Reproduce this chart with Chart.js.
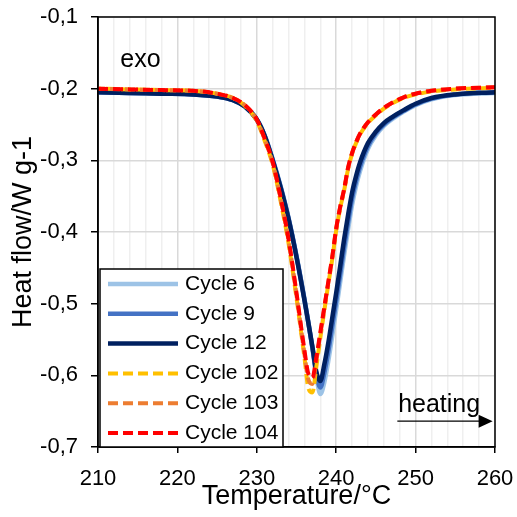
<!DOCTYPE html>
<html>
<head>
<meta charset="utf-8">
<script src="https://cdn.jsdelivr.net/npm/chart.js@4.4.1/dist/chart.umd.min.js"></script>
<style>
  html, body { margin: 0; padding: 0; background: #fff; }
  #wrap { width: 517px; height: 517px; }
</style>
</head>
<body>
<div id="wrap"><canvas id="dsc" width="517" height="517"></canvas></div>
<script>
// Temperature points (°C) shared by all curves
const temps = [210, 214, 218, 222, 225, 227, 228.5, 230, 231, 232, 233, 234, 235, 236, 236.5, 237, 237.5, 238, 238.5, 239, 239.5, 240, 240.5, 241, 241.5, 242, 242.5, 243, 244, 245, 246, 247, 248.5, 250, 252, 255, 260];

// Heat flow (W/g)
const cycle6 = [-0.205, -0.206, -0.207, -0.208, -0.211, -0.216, -0.225, -0.243, -0.265, -0.298, -0.336, -0.380, -0.433, -0.493, -0.526, -0.562, -0.600, -0.626, -0.610, -0.580, -0.545, -0.508, -0.470, -0.432, -0.396, -0.362, -0.336, -0.315, -0.284, -0.265, -0.252, -0.243, -0.232, -0.223, -0.215, -0.209, -0.206];
const cycle9 = [-0.205, -0.206, -0.207, -0.208, -0.211, -0.216, -0.225, -0.243, -0.266, -0.299, -0.337, -0.381, -0.434, -0.494, -0.527, -0.561, -0.598, -0.617, -0.597, -0.567, -0.532, -0.496, -0.459, -0.421, -0.386, -0.353, -0.329, -0.309, -0.280, -0.262, -0.250, -0.241, -0.231, -0.222, -0.214, -0.208, -0.205];
const cycle12 = [-0.205, -0.206, -0.207, -0.208, -0.211, -0.216, -0.225, -0.243, -0.266, -0.300, -0.338, -0.382, -0.435, -0.495, -0.527, -0.560, -0.595, -0.608, -0.585, -0.555, -0.520, -0.485, -0.448, -0.410, -0.376, -0.345, -0.322, -0.303, -0.276, -0.260, -0.248, -0.240, -0.230, -0.221, -0.213, -0.208, -0.205];
const cycle102 = [-0.200, -0.201, -0.202, -0.203, -0.207, -0.213, -0.224, -0.245, -0.273, -0.306, -0.357, -0.416, -0.492, -0.575, -0.618, -0.624, -0.588, -0.548, -0.510, -0.473, -0.438, -0.398, -0.367, -0.342, -0.312, -0.291, -0.276, -0.264, -0.248, -0.237, -0.228, -0.221, -0.213, -0.208, -0.204, -0.201, -0.199];
const cycle103 = [-0.200, -0.201, -0.202, -0.203, -0.207, -0.213, -0.223, -0.244, -0.271, -0.304, -0.354, -0.412, -0.488, -0.570, -0.606, -0.612, -0.580, -0.543, -0.507, -0.471, -0.436, -0.396, -0.366, -0.341, -0.311, -0.290, -0.275, -0.263, -0.247, -0.236, -0.227, -0.220, -0.212, -0.207, -0.203, -0.200, -0.198];
const cycle104 = [-0.200, -0.201, -0.202, -0.203, -0.207, -0.213, -0.223, -0.243, -0.270, -0.302, -0.352, -0.410, -0.485, -0.565, -0.598, -0.603, -0.575, -0.540, -0.505, -0.470, -0.435, -0.395, -0.365, -0.340, -0.310, -0.290, -0.275, -0.263, -0.247, -0.236, -0.227, -0.220, -0.212, -0.207, -0.203, -0.200, -0.198];

const seriesLabels = ["Cycle 6", "Cycle 9", "Cycle 12", "Cycle 102", "Cycle 103", "Cycle 104"];
const seriesValues = [cycle6, cycle9, cycle12, cycle102, cycle103, cycle104];
const seriesColors = ["#9DC3E6", "#4472C4", "#002060", "#FFC000", "#ED7D31", "#FF0000"];
const dashed = [false, false, false, true, true, true];

// Axis ranges
const xMin = 210, xMax = 260;
const yMin = -0.7, yMax = -0.1;

const FONT = "'Liberation Sans', Arial, sans-serif";

const datasets = seriesLabels.map((label, i) => ({
    label: label,
    data: temps.map((t, j) => ({ x: t, y: seriesValues[i][j] })),
    borderColor: seriesColors[i],
    borderWidth: dashed[i] ? 4 : 4.5,
    borderDash: dashed[i] ? [10, 5] : [],
    borderDashOffset: i === 3 ? 7 : (i === 4 ? 3 : 0),
    pointRadius: 0,
    fill: false,
    cubicInterpolationMode: "monotone",
    order: 5 - i   // later cycles on top
}));

// black frame round the plot area
const framePlugin = {
    id: "frame",
    afterDatasetsDraw(chart) {
        const { ctx, chartArea: a } = chart;
        ctx.save();
        ctx.strokeStyle = "#000";
        ctx.lineWidth = 1.5;
        ctx.strokeRect(a.left, a.top, a.right - a.left, a.bottom - a.top);
        ctx.restore();
    }
};

// legend box in the lower left corner + "exo" and "heating" notes
const notesPlugin = {
    id: "notes",
    afterDraw(chart) {
        const { ctx, chartArea: a, scales } = chart;
        const x = scales.x, y = scales.y;
        ctx.save();

        // legend
        const bx = a.left + 2, by = a.bottom - 178, bw = 183, bh = 178;
        ctx.fillStyle = "#fff";
        ctx.fillRect(bx, by, bw, bh);
        ctx.strokeStyle = "#000";
        ctx.lineWidth = 1.5;
        ctx.strokeRect(bx, by, bw, bh);
        ctx.font = "21px " + FONT;
        ctx.textBaseline = "middle";
        ctx.textAlign = "left";
        chart.data.datasets.forEach((ds, i) => {
            const ry = by + 15 + i * 29.8;
            ctx.beginPath();
            ctx.strokeStyle = ds.borderColor;
            ctx.lineWidth = ds.borderWidth;
            ctx.setLineDash(ds.borderDash);
            ctx.lineDashOffset = 0;
            ctx.moveTo(bx + 8, ry);
            ctx.lineTo(bx + 78, ry);
            ctx.stroke();
            ctx.setLineDash([]);
            ctx.fillStyle = "#000";
            ctx.fillText(ds.label, bx + 85, ry);
        });

        // exo
        ctx.fillStyle = "#000";
        ctx.font = "25px " + FONT;
        ctx.fillText("exo", x.getPixelForValue(212.8), y.getPixelForValue(-0.16));

        // heating with arrow
        ctx.fillText("heating", x.getPixelForValue(247.8), y.getPixelForValue(-0.641));
        const ay = y.getPixelForValue(-0.664);
        const ax0 = x.getPixelForValue(247.7), ax1 = x.getPixelForValue(259.7);
        ctx.strokeStyle = "#000";
        ctx.lineWidth = 1.2;
        ctx.beginPath();
        ctx.moveTo(ax0, ay);
        ctx.lineTo(ax1 - 12, ay);
        ctx.stroke();
        ctx.beginPath();
        ctx.moveTo(ax1, ay);
        ctx.lineTo(ax1 - 14, ay - 6.5);
        ctx.lineTo(ax1 - 14, ay + 6.5);
        ctx.closePath();
        ctx.fill();
        ctx.restore();
    }
};

new Chart(document.getElementById("dsc"), {
    type: "line",
    data: { datasets: datasets },
    options: {
        responsive: false,
        animation: false,
        devicePixelRatio: 1,
        layout: { padding: { top: 17, right: 22, left: 0, bottom: 0 } },
        plugins: {
            legend: { display: false },
            tooltip: { enabled: false }
        },
        scales: {
            x: {
                type: "linear",
                min: xMin,
                max: xMax,
                afterFit: (s) => { s.height = 70; s.paddingLeft = 0; s.paddingRight = 0; },
                ticks: {
                    stepSize: 2,
                    autoSkip: false,
                    maxRotation: 0,
                    padding: 13,
                    color: "#000",
                    font: { family: FONT, size: 22 },
                    callback: (v) => (v % 10 === 0 ? String(v) : "")
                },
                grid: {
                    color: (c) => (c.tick && c.tick.value % 10 === 0 ? "#d9d9d9" : "#efefef"),
                    lineWidth: 1.5,
                    tickLength: 6,
                    tickColor: (c) => (c.tick && c.tick.value % 10 === 0 ? "#000" : "rgba(0,0,0,0)")
                },
                border: { color: "#000", width: 1.5 },
                title: {
                    display: true,
                    text: "Temperature/°C",
                    color: "#000",
                    font: { family: FONT, size: 27 },
                    padding: { top: 0, bottom: 4 }
                }
            },
            y: {
                min: yMin,
                max: yMax,
                afterFit: (s) => { s.width = 98; s.paddingTop = 0; s.paddingBottom = 0; },
                ticks: {
                    stepSize: 0.1,
                    padding: 13,
                    color: "#000",
                    font: { family: FONT, size: 22 },
                    callback: (v) => v.toFixed(1).replace(".", ",")
                },
                grid: {
                    color: "#d9d9d9",
                    lineWidth: 1.5,
                    tickLength: 7,
                    tickColor: "#000"
                },
                border: { color: "#000", width: 1.5 },
                title: {
                    display: true,
                    text: "Heat flow/W g-1",
                    color: "#000",
                    font: { family: FONT, size: 27 },
                    padding: { top: 7, bottom: 0 }
                }
            }
        }
    },
    plugins: [framePlugin, notesPlugin]
});
</script>
</body>
</html>
